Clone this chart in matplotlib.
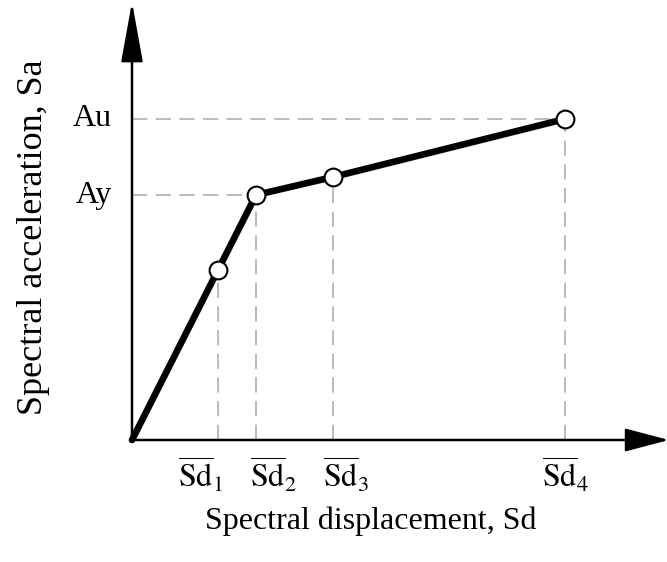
import matplotlib.pyplot as plt

plt.rcParams['font.family'] = 'Liberation Serif'
plt.rcParams['mathtext.fontset'] = 'stix'

# capacity curve points (arbitrary units, origin at 0,0)
sd = [0, 86, 124, 201, 433]
sa = [0, 170, 245, 263, 321]
sd_labels = [r'$\overline{\mathrm{Sd}}_1$', r'$\overline{\mathrm{Sd}}_2$',
             r'$\overline{\mathrm{Sd}}_3$', r'$\overline{\mathrm{Sd}}_4$']
sa_ticks = [245, 321]
sa_labels = ['Ay', 'Au']

# label nudges (pixels), as placed in the original drawing
label_dx = [-17, 17, 13, 0]

fig = plt.figure(figsize=(6.67, 5.62), dpi=100)
ax = fig.add_axes([0, 0, 1, 1])
ax.set_xlim(-132, 535)
ax.set_ylim(-122, 440)
ax.axis('off')

# dashed guide lines
dash = dict(color='#a8a8a8', lw=1.1, ls=(0, (10, 5.5)), zorder=1)
for x, y in zip(sd[1:], sa[1:]):
    ax.plot([x, x], [0, y], **dash)
for y in sa_ticks:
    i = sa.index(y)
    ax.plot([0, sd[i]], [y, y], **dash)

# axes with arrows
ax.annotate('', xy=(537, 0), xytext=(-1, 0), annotation_clip=False,
            arrowprops=dict(arrowstyle='-|>,head_length=2.74,head_width=0.72',
                            lw=1.8, color='black', shrinkA=0, shrinkB=0))
ax.annotate('', xy=(0, 438), xytext=(0, -1), annotation_clip=False,
            arrowprops=dict(arrowstyle='-|>,head_length=3.75,head_width=0.68',
                            lw=1.8, color='black', shrinkA=0, shrinkB=0))

# curve
ax.plot(sd, sa, color='black', lw=4.8, solid_capstyle='round', zorder=3)
ax.plot(sd[1:], sa[1:], 'o', ms=12.8, mfc='white', mec='black', mew=1.5, zorder=4)

for x, dx, lab in zip(sd[1:], label_dx, sd_labels):
    ax.text(x + dx, -35, lab, ha='center', va='center', fontsize=23)
for y, lab in zip(sa_ticks, sa_labels):
    ax.text(-20, y, lab, ha='right', va='center', fontsize=23)

ax.text(239, -81, 'Spectral displacement, Sd', ha='center', va='center', fontsize=23)
ax.text(-98, 203, 'Spectral acceleration, Sa', ha='center', va='center',
        rotation=90, fontsize=26)

fig.savefig('out.png', dpi=100)
